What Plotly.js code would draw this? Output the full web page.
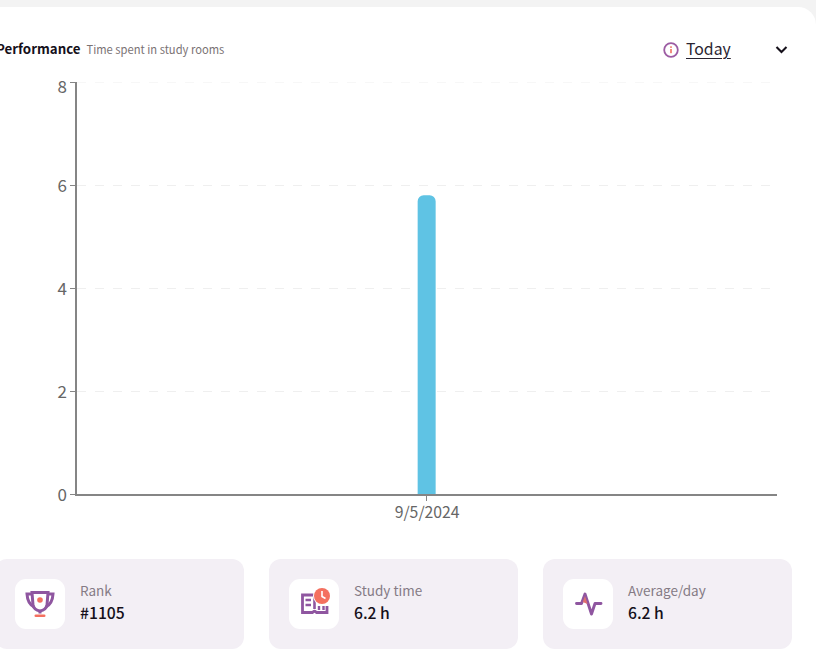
<!DOCTYPE html>
<html>
<head>
<meta charset="utf-8">
<script src="https://cdn.plot.ly/plotly-3.0.1.min.js"></script>
<style>
html,body{margin:0;padding:0;width:816px;height:670px;overflow:hidden;background:#fff;font-family:"Noto Sans CJK SC","Noto Sans",sans-serif}
#strip{position:absolute;left:0;top:0;width:816px;height:7px;background:#f3f3f3}
#corner{position:absolute;left:786px;top:0;width:30px;height:30px;background:#f3f3f3}
#panel{position:absolute;left:0;top:7px;width:816px;height:663px;background:#fff;border-top-right-radius:18px}
#chart{position:absolute;left:0;top:0;width:816px;height:670px}
.card{position:absolute;top:559px;height:90px;width:249px;background:#f3eff5;border-radius:12px}
.tile{position:absolute;left:20px;top:20px;width:50px;height:50px;background:#fff;border-radius:11px}
.tile svg{position:absolute;left:0;top:0}
.lab{position:absolute;left:85px;top:20px;font-size:13.5px;line-height:22px;color:#857b85;white-space:nowrap}
.val{position:absolute;left:85px;top:42px;font-size:15.7px;line-height:24px;font-weight:500;color:#15101a;white-space:nowrap}
#today{position:absolute;left:686px;top:37px;font-size:15.8px;line-height:24px;color:#2a2430;text-decoration:underline;text-underline-offset:3px}
.abs{position:absolute}
</style>
</head>
<body>
<div id="corner"></div><div id="strip"></div><div id="panel"></div>
<div id="chart"></div>
<svg class="abs" style="left:662px;top:41px" width="18" height="18" viewBox="0 0 18 18">
  <circle cx="9" cy="9" r="6.8" fill="none" stroke="#9c5ca3" stroke-width="1.8"/>
  <rect x="8.2" y="8" width="1.6" height="4.2" fill="#f0705f"/><rect x="8.2" y="5.3" width="1.6" height="1.6" fill="#f0705f"/>
</svg>
<div id="today">Today</div>
<svg class="abs" style="left:774px;top:44px" width="15" height="12" viewBox="0 0 15 12">
  <path d="M2.5 3 L7.5 8 L12.5 3" fill="none" stroke="#15101a" stroke-width="2.1"/>
</svg>
<div id="cards"></div>
<script>
var categories = ["9/5/2024"];
var studyHours = [5.8];
var yTicks = [0, 2, 4, 6, 8];
var chartTitle = "Performance";
var chartSubtitle = "Time spent in study rooms";
var statLabels = ["Rank", "Study time", "Average/day"];
var statValues = ["#1105", "6.2 h", "6.2 h"];

var icons = [
 '<svg width="50" height="50" viewBox="0 0 50 50"><path d="M17 13.5 H33 L32 26 Q31 31 25 32 Q19 31 18 26 Z" fill="none" stroke="#8f56a0" stroke-width="3"/><path d="M17 15 H12 Q12.5 24.5 19 28 M33 15 H38 Q37.5 24.5 31 28" fill="none" stroke="#8f56a0" stroke-width="3"/><path d="M25 32 V34.5" stroke="#8f56a0" stroke-width="3"/><circle cx="25" cy="21" r="2.8" fill="#f4705f"/><rect x="19.5" y="35.5" width="11" height="2.6" rx="1.3" fill="#f4705f"/></svg>',
 '<svg width="50" height="50" viewBox="0 0 50 50"><path d="M25 16 H13.5 V33.5 H23.5 Q25.5 31 27.5 33.5 H38 V27" fill="none" stroke="#8f56a0" stroke-width="2.8"/><path d="M25.5 16 V30" stroke="#8f56a0" stroke-width="2.6"/><path d="M16.5 21 H22 M16.5 26 H22 M30 27 V31 M34.5 27 V31" stroke="#8f56a0" stroke-width="2.4"/><circle cx="33" cy="17" r="9" fill="#fff"/><circle cx="33" cy="17" r="8" fill="#f4705f"/><path d="M33 12 V17.5 L36.5 19.5" fill="none" stroke="#fff" stroke-width="1.6"/></svg>',
 '<svg width="50" height="50" viewBox="0 0 50 50"><path d="M13.5 24.5 H18.5 L22 15 L28.5 35 L32 24.5 H38" fill="none" stroke="#8f56a0" stroke-width="2.9" stroke-linejoin="round" stroke-linecap="round"/><path d="M19.7 23 L22 17 L24.6 25 Z" fill="#e0706f"/></svg>'
];
var cardLefts = [-5, 269, 543];
var html = "";
for (var i = 0; i < statLabels.length; i++) {
  html += '<div class="card" style="left:' + cardLefts[i] + 'px"><div class="tile">' + icons[i] +
    '</div><div class="lab">' + statLabels[i] + '</div><div class="val">' + statValues[i] + '</div></div>';
}
document.getElementById("cards").innerHTML = html;

var W = 816, H = 670, mL = 77, mR = 39, mT = 82, mB = 175.5;
var axisColor = "#858585", textColor = "#666666", gridColor = "#efefef";
var fontName = '"Noto Sans CJK SC", "Noto Sans", sans-serif';
Plotly.newPlot("chart", [{
  type: "bar",
  x: categories,
  y: studyHours,
  width: 0.0257,
  marker: {color: "#5fc3e4", line: {width: 0}},
  hoverinfo: "x+y"
}], {
  width: W, height: H,
  margin: {l: mL, r: mR, t: mT, b: mB, pad: 0},
  paper_bgcolor: "rgba(0,0,0,0)",
  plot_bgcolor: "rgba(0,0,0,0)",
  barcornerradius: 6,
  showlegend: false,
  font: {family: fontName, color: textColor, size: 16},
  xaxis: {
    type: "category",
    range: [-0.4995, 0.5005],
    showgrid: false,
    showline: true, linecolor: axisColor, linewidth: 2,
    ticks: "outside", ticklen: 5, tickwidth: 1.2, tickcolor: axisColor,
    tickfont: {size: 15.8, color: textColor},
    zeroline: false, fixedrange: true
  },
  yaxis: {
    range: [0, 8],
    tickvals: yTicks,
    showgrid: true, gridcolor: gridColor, gridwidth: 1, griddash: "dash",
    showline: true, linecolor: axisColor, linewidth: 1.5,
    ticks: "outside", ticklen: 5, tickwidth: 1.2, tickcolor: axisColor,
    tickfont: {size: 17, color: textColor},
    zeroline: false, fixedrange: true
  },
  shapes: [{
    type: "line", xref: "paper", x0: 0, x1: 1, yref: "y", y0: yTicks[yTicks.length - 1], y1: yTicks[yTicks.length - 1],
    line: {color: gridColor, width: 1, dash: "dash"}, layer: "below"
  }],
  annotations: [{
    xref: "paper", yref: "paper",
    x: (-6 - mL) / (W - mL - mR),
    y: 1 + (mT - 48.5) / (H - mT - mB),
    xanchor: "left", yanchor: "middle", showarrow: false, align: "left",
    text: "<b>" + chartTitle + "</b>  <span style=\"font-size:11.2px;color:#7a7274\">" + chartSubtitle + "</span>",
    font: {size: 13.3, color: "#15101a"}
  }]
}, {displayModeBar: false}).then(function () {
  // tick labels nudged to the reference's positions; the top one sits just below its tick
  var labels = document.querySelectorAll("#chart .ytick text");
  labels.forEach(function (t, i) {
    var dy = i === labels.length - 1 ? 5 : 1;
    t.setAttribute("transform", (t.getAttribute("transform") || "") + " translate(0," + dy + ")");
  });
  document.querySelectorAll("#chart .xtick text").forEach(function (t) {
    t.setAttribute("transform", (t.getAttribute("transform") || "") + " translate(0.5,-2)");
  });
});
</script>
</body>
</html>
